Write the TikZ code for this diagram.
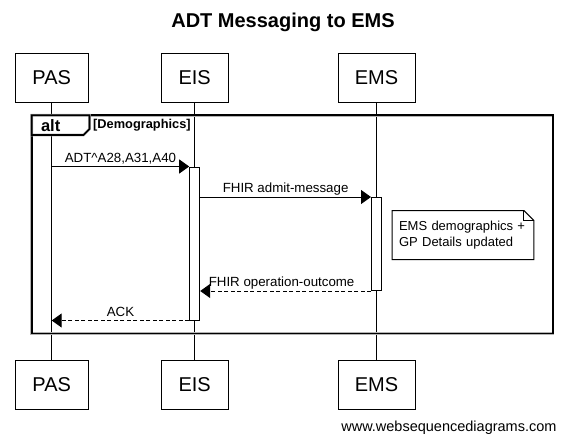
\documentclass[tikz,border=0pt]{standalone}
\usepackage{fontspec}
\setmainfont{Liberation Sans}
\usetikzlibrary{arrows.meta,positioning}

\begin{document}
\begin{tikzpicture}[x=1pt,y=-1pt]
% Styles
\tikzset{actor/.style={draw, line width=1pt, minimum height=49, inner sep=0pt, font=\fontsize{20}{24}\selectfont}}
\tikzset{activation/.style={draw, fill=white, line width=1pt, minimum width=10, inner sep=0pt}}
\tikzset{msg/.style={line width=1pt, -{Triangle[length=10pt,width=14pt]}}}
\tikzset{reply/.style={msg, dash pattern=on 4pt off 2.5pt}}
\tikzset{msglabel/.style={anchor=base, yshift=4.5pt, inner sep=0pt, font=\fontsize{13.3}{16}\selectfont}}
\tikzstyle{notetext}=[inner xsep=6.7pt, inner ysep=0pt, text width=128pt, minimum height=48.6, align=left, font=\fontsize{13}{15.3}\selectfont]
\useasboundingbox (0,0) rectangle (563,444);

% Title
\node[font=\bfseries\fontsize{20}{24}\selectfont] (title) at (283,22) {ADT Messaging to EMS};

% Draw the participants and lifelines
\foreach \name/\x/\w in {PAS/51.7/73,EIS/194.7/67,EMS/376.5/77} {
\node[actor, minimum width=\w] (\name top) at (\x,78) {\name};
\node[actor, minimum width=\w] (\name bot) at (\x,385) {\name};
\draw[line width=1pt] (\name top) -- (\name bot);
}

% Draw the alt frame
\coordinate (altNW) at (31.7,115.3);
\coordinate (altSE) at (553,333.5);
\draw[gray!60, line width=2.8pt] (altNW) rectangle (altSE);
\draw[line width=1.6pt] (altNW) rectangle (altSE);
\draw[gray!60, line width=2.8pt, fill=white] (altNW) -- ++(57.8,0) -- ++(0,13.7) -- ++(-6,6) -- ++(-51.8,0) -- cycle;
\draw[line width=1.6pt] (altNW) -- ++(57.8,0) -- ++(0,13.7) -- ++(-6,6) -- ++(-51.8,0) -- cycle;
\node[font=\bfseries\fontsize{16.5}{20}\selectfont, inner sep=0pt] (alttag) at (50.7,126) {alt};
\node[anchor=west, font=\bfseries\fontsize{12.8}{15}\selectfont, inner sep=0pt] (altguard) at (93,125.3) {[Demographics]};

% Activations
\node[activation, minimum height=153] (EISact) at (194.7,243.5) {};
\node[activation, minimum height=93] (EMSact) at (376.5,244) {};

% the messages
\draw[msg] (PAStop |- EISact.north west) -- node[msglabel] {ADT\textasciicircum A28,A31,A40} (EISact.north west);
\draw[msg] (EISact.east |- EMSact.north west) -- node[msglabel] {FHIR admit-message} (EMSact.north west);
\draw[reply] (EMSact.south west) -- node[msglabel, xshift=-4pt] {FHIR operation-outcome} (EISact.east |- EMSact.south west);
\draw[reply] (EISact.south west) -- node[msglabel] {ACK} (PAStop |- EISact.south west);

% the note
\node[notetext] (note) at (463,235) {EMS demographics +\\GP Details updated};
\draw[line width=1pt, fill=white] (note.north west) -- ([xshift=-10]note.north east) -- ([yshift=-10]note.north east) -- (note.south east) -- (note.south west) -- cycle;
\draw[line width=1pt] ([xshift=-10]note.north east) |- ([yshift=-10]note.north east);
\node[notetext] at (note.center) {EMS demographics +\\GP Details updated};

% Footer
\node[anchor=east, inner sep=0pt, font=\fontsize{14.5}{17}\selectfont] (wsd) at (556.7,428) {www.websequencediagrams.com};
\end{tikzpicture}
\end{document}
